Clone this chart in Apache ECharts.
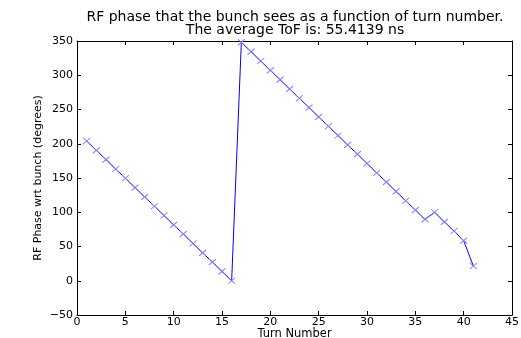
<!DOCTYPE html>
<html><head><meta charset="utf-8">
<script src="https://cdn.jsdelivr.net/npm/echarts@6/dist/echarts.min.js"></script>
<style>html,body{margin:0;padding:0;background:#fff}#c{width:521px;height:338px}</style>
</head><body><div id="c"></div>
<script>
const turns = [1,2,3,4,5,6,7,8,9,10,11,12,13,14,15,16,17,18,19,20,21,22,23,24,25,26,27,28,29,30,31,32,33,34,35,36,37,38,39,40,41];
const phase = [204,190.4,176.8,163.2,149.6,136,122.4,108.8,95.2,81.6,68,54.4,40.8,27.2,13.6,0,
  348,334.4,320.8,307.2,293.6,280,266.4,252.8,239.2,225.6,212,198.4,184.8,171.2,157.6,144,130.4,116.8,103.2,89.6,
  100,86,72.6,58.5,21.5];
const titleText = 'RF phase that the bunch sees as a function of turn number.\nThe average ToF is: 55.4139 ns';
const xName = 'Turn Number';
const yName = 'RF Phase wrt bunch (degrees)';

const font = 'DejaVu Sans';
const chart = echarts.init(document.getElementById('c'), null, {renderer:'canvas'});
const axisLine = {show:true, onZero:false, lineStyle:{color:'#000', width:1}};
const tick = {show:true, inside:true, length:4, lineStyle:{color:'#000'}};
chart.setOption({
  animation:false,
  title:{text:titleText, left:290, top:6, textAlign:'center',
    textStyle:{fontFamily:font, fontSize:14, fontWeight:'normal', color:'#000', lineHeight:13}},
  grid:{left:77, right:9, top:41, bottom:23, show:false, containLabel:false, outerBoundsMode:'none'},
  xAxis:[{type:'value', min:0, max:45, interval:5, position:'bottom',
    name:xName, nameLocation:'middle', nameGap:13, nameMoveOverlap:false,
    nameTextStyle:{fontFamily:font, fontSize:11.5, color:'#000'},
    axisLine, axisTick:tick, splitLine:{show:false},
    axisLabel:{fontFamily:font, fontSize:11, color:'#000', margin:2}},
   {type:'value', min:0, max:45, interval:5, position:'top',
    axisLine, axisTick:tick, splitLine:{show:false}, axisLabel:{show:false}}],
  yAxis:[{type:'value', min:-50, max:350, interval:50, position:'left',
    name:yName, nameLocation:'middle', nameGap:33, nameRotate:90, nameMoveOverlap:false,
    nameTextStyle:{fontFamily:font, fontSize:11, color:'#000'},
    axisLine, axisTick:tick, splitLine:{show:false},
    axisLabel:{fontFamily:font, fontSize:11, color:'#000', margin:4,
      formatter: v => String(v).replace('-', '\u2212')}},
   {type:'value', min:-50, max:350, interval:50, position:'right',
    axisLine, axisTick:tick, splitLine:{show:false}, axisLabel:{show:false}}],
  series:[{type:'line', xAxisIndex:0, yAxisIndex:0,
    data: turns.map((t,i)=>[t, phase[i]]),
    lineStyle:{color:'#0000ff', width:1},
    symbol:'path://M0,0L10,10M10,0L0,10', symbolSize:[7,6], showSymbol:true,
    itemStyle:{color:'none', borderColor:'#7f7fff', borderWidth:1},
    emphasis:{disabled:true}}]
});
</script></body></html>
